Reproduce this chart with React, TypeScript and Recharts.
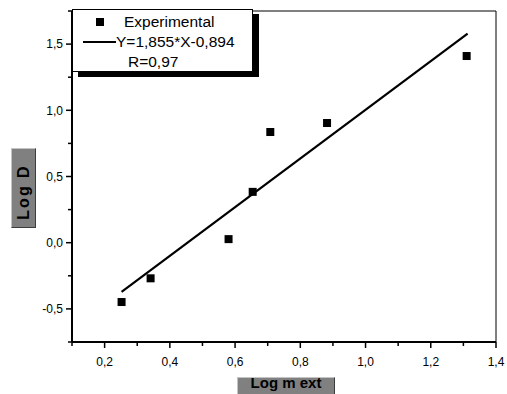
import React from 'react'
import { ScatterChart, Scatter, XAxis, YAxis, ReferenceLine } from 'recharts'

// measured points (log m ext vs log D)
const logMext = [0.252, 0.341, 0.58, 0.654, 0.708, 0.882, 1.31]
const logD = [-0.448, -0.269, 0.027, 0.384, 0.836, 0.904, 1.41]
// fitted line end points as drawn
const fitX = [0.252, 1.313]
const fitY = [-0.372, 1.58]

const xMajor = [0.2, 0.4, 0.6, 0.8, 1.0, 1.2, 1.4]
const xMinor = [0.1, 0.3, 0.5, 0.7, 0.9, 1.1, 1.3]
const yMajor = [-0.5, 0, 0.5, 1.0, 1.5]
const yMinor = [-0.75, -0.25, 0.25, 0.75, 1.25, 1.75]

const points = logMext.map((x, i) => ({ x, y: logD[i] }))
const fit = fitX.map((x, i) => ({ x, y: fitY[i] }))
const xTicks = [...xMinor, ...xMajor].sort((a, b) => a - b)
const yTicks = [...yMinor, ...yMajor].sort((a, b) => a - b)

const FONT = '"Liberation Sans", Arial, sans-serif'
const fmt = (v: number) => v.toFixed(1).replace('.', ',')
const isMajor = (list: number[], v: number) => list.some(m => Math.abs(m - v) < 1e-6)

function XTick({ x, y, payload }: any) {
  const major = isMajor(xMajor, payload.value)
  return (
    <g>
      <line x1={x} x2={x} y1={y} y2={y + (major ? 6 : 4)} stroke="#000" strokeWidth={1.5} />
      {major && <text x={x} y={y + 24} textAnchor="middle" fontSize={12} fontFamily={FONT} fill="#000">{fmt(payload.value)}</text>}
    </g>
  )
}

function YTick({ x, y, payload }: any) {
  const major = isMajor(yMajor, payload.value)
  return (
    <g>
      <line x1={x - (major ? 6 : 4)} x2={x} y1={y} y2={y} stroke="#000" strokeWidth={1.5} />
      {major && <text x={x - 9} y={y + 4.3} textAnchor="end" fontSize={12} fontFamily={FONT} fill="#000">{fmt(payload.value)}</text>}
    </g>
  )
}

const Square = (p: any) => <rect x={p.cx - 4} y={p.cy - 4} width={8} height={8} fill="#000" />
const NoDot = () => <g />

const labelBox: React.CSSProperties = {
  position: 'absolute', background: '#808080', boxSizing: 'border-box',
  border: '1px solid', borderColor: '#c4c4c4 #3c3c3c #3c3c3c #c4c4c4',
  fontFamily: FONT, fontWeight: 'bold', color: '#000'
}

export default function App() {
  return (
    <div style={{ position: 'absolute', left: 0, top: 0, width: 507, height: 394, background: '#fff', fontFamily: FONT, overflow: 'hidden' }}>
      <ScatterChart width={507} height={394} margin={{ top: 11, right: 11, bottom: 0, left: 0 }}>
        <XAxis type="number" dataKey="x" domain={[0.1, 1.4]} ticks={xTicks} interval={0} allowDataOverflow
          height={52} tickSize={0} tickMargin={0} tickLine={false} tick={<XTick />}
          axisLine={{ stroke: '#000', strokeWidth: 2 }} />
        <YAxis type="number" dataKey="y" domain={[-0.75, 1.75]} ticks={yTicks} interval={0} allowDataOverflow
          width={72} tickSize={0} tickMargin={0} tickLine={false} tick={<YTick />}
          axisLine={{ stroke: '#000', strokeWidth: 2 }} />
        <ReferenceLine y={1.75} stroke="#000" strokeWidth={1} />
        <ReferenceLine x={1.4} stroke="#000" strokeWidth={1} />
        <Scatter data={fit} line={{ stroke: '#000', strokeWidth: 2.2 }} shape={<NoDot />} isAnimationActive={false} />
        <Scatter data={points} shape={<Square />} isAnimationActive={false} />
      </ScatterChart>

      <div style={{ position: 'absolute', left: 72, top: 9, width: 181, height: 63, boxSizing: 'border-box', background: '#fff', border: '1px solid #000', boxShadow: '6px 5px 0 #000' }}>
        <svg width={179} height={61} style={{ position: 'absolute', left: 0, top: 0 }}>
          <rect x={23} y={8} width={8} height={8} fill="#000" />
          <text x={51} y={17} fontSize={15.5} fontFamily={FONT}>Experimental</text>
          <line x1={10} x2={43} y1={32} y2={32} stroke="#000" strokeWidth={2} />
          <text x={43} y={37} fontSize={15.5} fontFamily={FONT}>Y=1,855*X-0,894</text>
          <text x={55} y={57} fontSize={15.5} fontFamily={FONT}>R=0,97</text>
        </svg>
      </div>

      <div style={{ ...labelBox, left: 11, top: 148, width: 25, height: 80, display: 'flex', alignItems: 'center', justifyContent: 'center', fontSize: 16 }}>
        <span style={{ transform: 'rotate(-90deg) translateX(-4px)', whiteSpace: 'nowrap', letterSpacing: 2 }}>Log D</span>
      </div>
      <div style={{ ...labelBox, left: 237, top: 377, width: 98, height: 24, fontSize: 15, textAlign: 'center', lineHeight: '17px' }}>
        <span style={{ display: 'block', position: 'relative', top: -4, whiteSpace: 'nowrap' }}>Log m ext</span>
      </div>
    </div>
  )
}
